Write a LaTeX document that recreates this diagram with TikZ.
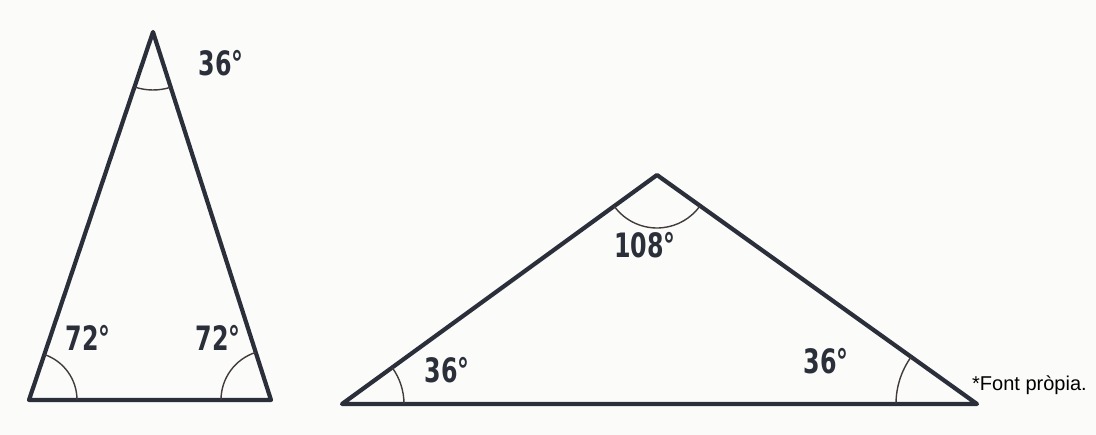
\documentclass[tikz,border=0pt]{standalone}
\usepackage{fontspec}
\setmainfont{Liberation Sans}
\newfontfamily\handfont{DejaVu Sans}
\usetikzlibrary{angles}
\definecolor{ink}{HTML}{2B2F3A}
\definecolor{paper}{HTML}{FBFBFA}
\tikzset{
  side/.style={draw=ink, line width=4.2pt, line join=round, line cap=round},
  anglearc/.style={draw=ink!85!brown, line width=1.4pt},
  deg/.style={text=ink, font=\handfont\bfseries\fontsize{28}{28}\selectfont, inner sep=0pt, xscale=0.85, yscale=1.2},
  note/.style={text=black, font=\fontsize{20}{20}\selectfont, inner sep=0pt, anchor=base west}
}
\begin{document}
\begin{tikzpicture}[x=1pt,y=1pt]
\fill[paper] (0,0) rectangle (1096,435);
\useasboundingbox (0,0) rectangle (1096,435);
% triangle 1
\coordinate (A) at (153,403);
\coordinate (B) at (29,35);
\coordinate (C) at (271,35);
\draw[side] (A) -- (B) -- (C) -- cycle;
\pic[anglearc, angle radius=58pt] {angle=B--A--C};
\pic[anglearc, angle radius=48pt] {angle=C--B--A};
\pic[anglearc, angle radius=50pt] {angle=A--C--B};
\node[deg] (a1) at (221,372) {36\textdegree};
\node[deg] (b1) at (88,97) {72\textdegree};
\node[deg] (c1) at (218,97) {72\textdegree};
% triangle 2
\coordinate (P) at (657,260);
\coordinate (Q) at (342,31);
\coordinate (R) at (977,31);
\draw[side] (P) -- (Q) -- (R) -- cycle;
\pic[anglearc, angle radius=53pt] {angle=Q--P--R};
\pic[anglearc, angle radius=62pt] {angle=R--Q--P};
\pic[anglearc, angle radius=81pt] {angle=P--R--Q};
\node[deg] (p1) at (645,190) {108\textdegree};
\node[deg] (q1) at (447,65) {36\textdegree};
\node[deg] (r1) at (826,74) {36\textdegree};
% source note
\node[note] (src) at (972,44) {*Font pròpia.};
\end{tikzpicture}
\end{document}
